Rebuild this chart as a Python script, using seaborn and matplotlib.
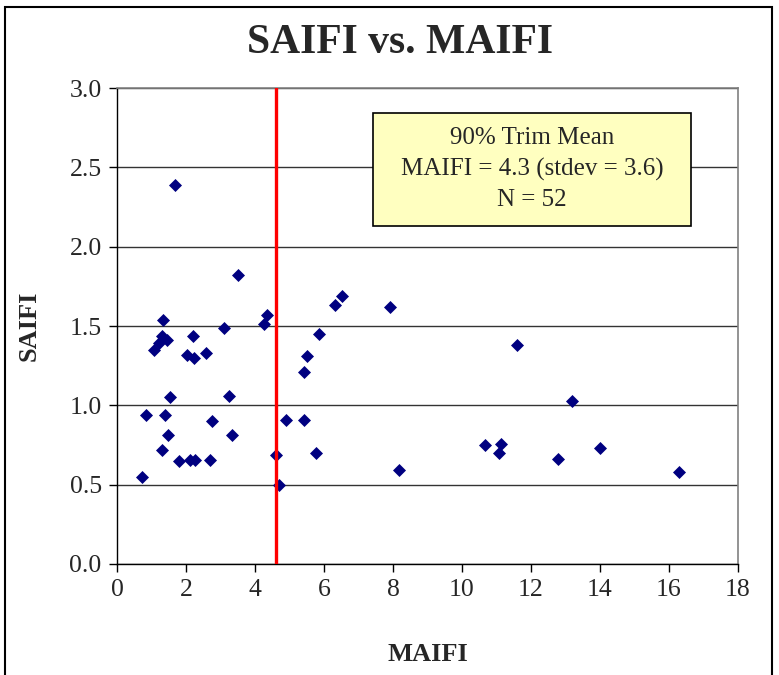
import numpy as np
import matplotlib
matplotlib.use('Agg')
import matplotlib.pyplot as plt
import pandas as pd
import seaborn as sns
from matplotlib.patches import Rectangle

# values
maifi = [1.68, 3.50, 1.34, 3.10, 4.35, 4.25, 2.19, 1.29, 1.46, 1.23,
         1.08, 2.04, 2.24, 2.57, 1.54, 3.25, 0.84, 1.39, 2.75, 1.49,
         3.34, 1.29, 1.79, 2.13, 2.25, 2.70, 0.73, 6.51, 6.31, 5.85,
         5.51, 5.41, 4.91, 5.42, 4.61, 5.77, 4.70, 7.91, 8.16, 11.59,
         13.19, 10.68, 11.12, 11.07, 12.77, 13.99, 16.30]
saifi = [2.39, 1.82, 1.54, 1.49, 1.57, 1.51, 1.44, 1.44, 1.41, 1.39,
         1.35, 1.32, 1.30, 1.33, 1.05, 1.06, 0.94, 0.94, 0.90, 0.81,
         0.81, 0.72, 0.65, 0.655, 0.655, 0.655, 0.55, 1.69, 1.63, 1.45,
         1.31, 1.21, 0.91, 0.91, 0.69, 0.70, 0.50, 1.62, 0.59, 1.38,
         1.03, 0.75, 0.755, 0.70, 0.66, 0.73, 0.58]
trim_mean_line = 4.6
box_lines = ['90% Trim Mean', 'MAIFI = 4.3 (stdev = 3.6)', 'N = 52']

df = pd.DataFrame({'MAIFI': maifi, 'SAIFI': saifi})

sns.set_style('white')
plt.rcParams['font.family'] = ['Liberation Serif', 'DejaVu Serif']

fig = plt.figure(figsize=(7.79, 6.75), dpi=100)
ax = fig.add_axes([117 / 779, 1 - 564 / 675, 621 / 779, 476 / 675])

sns.scatterplot(data=df, x='MAIFI', y='SAIFI', marker='D', s=44,
                color='#000080', linewidth=0, ax=ax, zorder=3)
ax.axvline(trim_mean_line, color='#ff0000', lw=2.4, zorder=4)

ax.set_xlim(0, 18)
ax.set_ylim(0, 3.0)
ax.set_xticks(np.arange(0, 19, 2))
ax.set_yticks(np.arange(0, 3.01, 0.5))
ax.set_yticklabels([f'{v:.1f}' for v in np.arange(0, 3.01, 0.5)])
ax.grid(axis='y', color='#333333', lw=1.0, zorder=0)
ax.grid(axis='x', visible=False)

for side in ['top', 'right']:
    ax.spines[side].set_color('#808080')
    ax.spines[side].set_linewidth(1.2)
for side in ['left', 'bottom']:
    ax.spines[side].set_color('black')
    ax.spines[side].set_linewidth(1.0)

ax.tick_params(axis='both', which='major', direction='out', length=6,
               width=1, color='black', labelsize=18.5, pad=5,
               bottom=True, left=True)

ax.set_xlabel('MAIFI', fontsize=19, fontweight='bold', labelpad=30)
ax.set_ylabel('SAIFI', fontsize=19, fontweight='bold', labelpad=21)

fig.text(400 / 779, 1 - 43 / 675, 'SAIFI vs. MAIFI', fontsize=30,
         fontweight='bold', ha='center', va='center')

# annotation box
fig.patches.append(Rectangle((373 / 779, 1 - 226 / 675), 318 / 779, 113 / 675,
                             transform=fig.transFigure, facecolor='#ffffc0',
                             edgecolor='black', linewidth=1.2, zorder=5))
fig.text(532 / 779, 1 - 169 / 675, '\n'.join(box_lines), fontsize=18,
         ha='center', va='center', linespacing=1.5, zorder=6)

# outer chart border
fig.patches.append(Rectangle((5 / 779, -0.02), 767 / 779, 1 - 7 / 675 + 0.02,
                             transform=fig.transFigure, fill=False,
                             edgecolor='black', linewidth=1.5))

fig.savefig('out.png', dpi=100)
plt.close(fig)
